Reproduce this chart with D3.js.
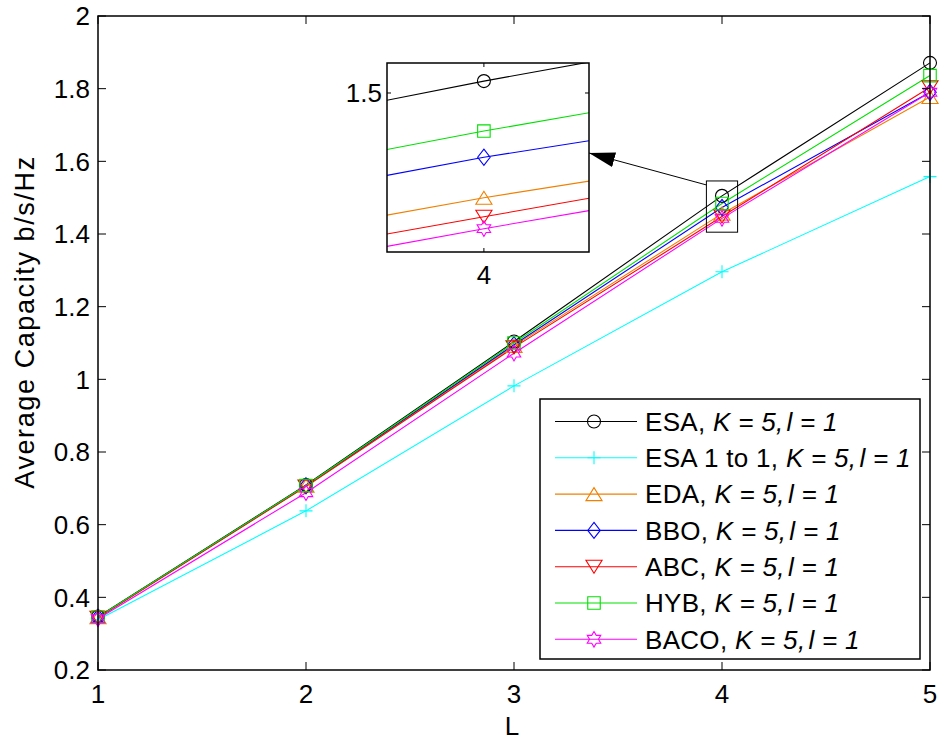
<!DOCTYPE html>
<html><head><meta charset="utf-8">
<script src="https://cdn.jsdelivr.net/npm/d3@7"></script>
<style>body{margin:0;background:#fff}svg{display:block}text{font-family:"Liberation Sans",Arial,sans-serif}</style>
</head><body><svg id="c" width="940" height="740"></svg>
<script>
const L = [1, 2, 3, 4, 5];
const esa   = [0.347, 0.709, 1.104, 1.505, 1.871];
const esa11 = [0.338, 0.638, 0.982, 1.296, 1.558];
const eda   = [0.345, 0.707, 1.092, 1.456, 1.777];
const bbo   = [0.345, 0.707, 1.095, 1.473, 1.790];
const abc   = [0.344, 0.705, 1.088, 1.448, 1.804];
const hyb   = [0.346, 0.708, 1.100, 1.484, 1.836];
const baco  = [0.341, 0.688, 1.072, 1.443, 1.790];
const names = ["ESA", "ESA 1 to 1", "EDA", "BBO", "ABC", "HYB", "BACO"];
const xTicks = [1, 2, 3, 4, 5];
const yTicks = [0.2, 0.4, 0.6, 0.8, 1, 1.2, 1.4, 1.6, 1.8, 2];
const insetXTicks = [4];
const insetYTicks = [1.5];
const zoomBoxX = [3.925, 4.075];
const zoomBoxY = [1.405, 1.546];

const colors = ["#000000", "#00ffff", "#f08000", "#0000ff", "#ff0000", "#00e000", "#ff00ff"];
const markers = ["circle", "plus", "triangle", "diamond", "triangleDown", "square", "hexagram"];
const seriesVals = [esa, esa11, eda, bbo, abc, hyb, baco];
const series = names.map((n, i) => ({name: n, color: colors[i], marker: markers[i], vals: seriesVals[i]}));

const svg = d3.select("#c");
const M = {l: 98, r: 930, t: 16, b: 670};
const x = d3.scaleLinear().domain([1, 5]).range([M.l, M.r]);
const y = d3.scaleLinear().domain([0.2, 2]).range([M.b, M.t]);

function markerPath(type, s) {
  const p = d3.path();
  if (type === "circle") { p.moveTo(s * 0.5, 0); p.arc(0, 0, s * 0.5, 0, Math.PI * 2); }
  else if (type === "square") { const h = s * 0.48; p.rect(-h, -h, 2 * h, 2 * h); }
  else if (type === "diamond") { const w = s * 0.48, h = s * 0.62; p.moveTo(0, -h); p.lineTo(w, 0); p.lineTo(0, h); p.lineTo(-w, 0); p.closePath(); }
  else if (type === "triangle") { const w = s * 0.62, h = s * 0.5; p.moveTo(0, -h); p.lineTo(w, h); p.lineTo(-w, h); p.closePath(); }
  else if (type === "triangleDown") { const w = s * 0.62, h = s * 0.5; p.moveTo(0, h); p.lineTo(w, -h); p.lineTo(-w, -h); p.closePath(); }
  else if (type === "plus") { const h = s * 0.5; p.moveTo(-h, 0); p.lineTo(h, 0); p.moveTo(0, -h); p.lineTo(0, h); }
  else if (type === "hexagram") {
    const R = s * 0.6, r = R / Math.sqrt(3);
    for (let k = 0; k < 12; k++) {
      const a = -Math.PI / 2 + k * Math.PI / 6, rr = k % 2 ? r : R;
      const px = rr * Math.cos(a), py = rr * Math.sin(a);
      if (k === 0) p.moveTo(px, py); else p.lineTo(px, py);
    }
    p.closePath();
  }
  return p.toString();
}
const MS = 13;
const FS = 26;

svg.append("defs");
const line = d3.line().x((d, i) => x(L[i])).y(d => y(d));
const g = svg.append("g");
series.forEach(s => {
  g.append("path").attr("d", line(s.vals)).attr("fill", "none").attr("stroke", s.color).attr("stroke-width", 1.1);
});
series.forEach(s => {
  g.selectAll(null).data(s.vals).enter().append("path")
    .attr("transform", (d, i) => `translate(${x(L[i])},${y(d)})`)
    .attr("d", markerPath(s.marker, MS)).attr("fill", "none").attr("stroke", s.color).attr("stroke-width", 1.1);
});

// axes box
const ax = svg.append("g");
ax.append("rect").attr("x", M.l).attr("y", M.t).attr("width", M.r - M.l).attr("height", M.b - M.t)
  .attr("fill", "none").attr("stroke", "#000").attr("stroke-width", 1.5);
const TL = 8;
yTicks.forEach(v => {
  ax.append("line").attr("x1", M.l).attr("x2", M.l + TL).attr("y1", y(v)).attr("y2", y(v)).attr("stroke", "#000");
  ax.append("line").attr("x1", M.r).attr("x2", M.r - TL).attr("y1", y(v)).attr("y2", y(v)).attr("stroke", "#000");
  ax.append("text").attr("x", M.l - 8).attr("y", y(v)).attr("dy", "0.36em").attr("text-anchor", "end")
    .attr("font-size", FS).text(+v.toFixed(1));
});
xTicks.forEach(v => {
  ax.append("line").attr("x1", x(v)).attr("x2", x(v)).attr("y1", M.b).attr("y2", M.b - TL).attr("stroke", "#000");
  ax.append("line").attr("x1", x(v)).attr("x2", x(v)).attr("y1", M.t).attr("y2", M.t + TL).attr("stroke", "#000");
  ax.append("text").attr("x", x(v)).attr("y", M.b + 33).attr("text-anchor", "middle").attr("font-size", FS).text(v);
});
ax.append("text").attr("x", (M.l + M.r) / 2 - 2).attr("y", 735).attr("text-anchor", "middle").attr("font-size", FS).text("L");
ax.append("text").attr("transform", `translate(34,322) rotate(-90)`).attr("text-anchor", "middle")
  .attr("font-size", 27).attr("letter-spacing", 1.6).text("Average Capacity b/s/Hz");

// zoom rectangle
ax.append("rect").attr("x", x(zoomBoxX[0])).attr("y", y(zoomBoxY[1]))
  .attr("width", x(zoomBoxX[1]) - x(zoomBoxX[0])).attr("height", y(zoomBoxY[0]) - y(zoomBoxY[1]))
  .attr("fill", "none").attr("stroke", "#000").attr("stroke-width", 1);

// inset
const I = {l: 387, r: 589, t: 63, b: 252};
const xi = d3.scaleLinear().domain([3.9799, 4.0218]).range([I.l, I.r]);
const yi = d3.scaleLinear().domain([1.4332, 1.5126]).range([I.b, I.t]);
svg.select("defs").append("clipPath").attr("id", "insetclip")
  .append("rect").attr("x", I.l).attr("y", I.t).attr("width", I.r - I.l).attr("height", I.b - I.t);
const gi = svg.append("g");
gi.append("rect").attr("x", I.l).attr("y", I.t).attr("width", I.r - I.l).attr("height", I.b - I.t).attr("fill", "#fff");
const linei = d3.line().x((d, i) => xi(L[i])).y(d => yi(d));
const gic = gi.append("g").attr("clip-path", "url(#insetclip)");
series.forEach(s => {
  gic.append("path").attr("d", linei(s.vals)).attr("fill", "none").attr("stroke", s.color).attr("stroke-width", 1.1);
  gic.selectAll(null).data(s.vals).enter().append("path")
    .attr("transform", (d, i) => `translate(${xi(L[i])},${yi(d)})`)
    .attr("d", markerPath(s.marker, MS)).attr("fill", "none").attr("stroke", s.color).attr("stroke-width", 1.1);
});
gi.append("rect").attr("x", I.l).attr("y", I.t).attr("width", I.r - I.l).attr("height", I.b - I.t)
  .attr("fill", "none").attr("stroke", "#000").attr("stroke-width", 1.5);
insetYTicks.forEach(v => {
  gi.append("line").attr("x1", I.l).attr("x2", I.l + 4).attr("y1", yi(v)).attr("y2", yi(v)).attr("stroke", "#000");
  gi.append("line").attr("x1", I.r).attr("x2", I.r - 4).attr("y1", yi(v)).attr("y2", yi(v)).attr("stroke", "#000");
  gi.append("text").attr("x", I.l - 5).attr("y", yi(v)).attr("dy", "0.36em").attr("text-anchor", "end").attr("font-size", FS).text(v);
});
insetXTicks.forEach(v => {
  gi.append("line").attr("x1", xi(v)).attr("x2", xi(v)).attr("y1", I.b).attr("y2", I.b - 4).attr("stroke", "#000");
  gi.append("line").attr("x1", xi(v)).attr("x2", xi(v)).attr("y1", I.t).attr("y2", I.t + 4).attr("stroke", "#000");
  gi.append("text").attr("x", xi(v)).attr("y", I.b + 32).attr("text-anchor", "middle").attr("font-size", FS).text(v);
});

// arrow
svg.select("defs").append("marker").attr("id", "ah").attr("viewBox", "0 0 10 10").attr("refX", 10).attr("refY", 5)
  .attr("markerWidth", 26).attr("markerHeight", 15).attr("markerUnits", "userSpaceOnUse").attr("orient", "auto")
  .attr("preserveAspectRatio", "none")
  .append("path").attr("d", "M0,0L10,5L0,10Z").attr("fill", "#000");
svg.append("line").attr("x1", x(zoomBoxX[0])).attr("y1", y(1.535)).attr("x2", I.r).attr("y2", 153)
  .attr("stroke", "#000").attr("stroke-width", 1).attr("marker-end", "url(#ah)");

// legend
const LG = {x: 540, y: 399, w: 380, h: 260};
const lg = svg.append("g");
lg.append("rect").attr("x", LG.x).attr("y", LG.y).attr("width", LG.w).attr("height", LG.h)
  .attr("fill", "#fff").attr("stroke", "#000").attr("stroke-width", 1.5);
series.forEach((s, i) => {
  const yy = LG.y + 22.5 + i * 36.3;
  lg.append("line").attr("x1", 555).attr("x2", 637).attr("y1", yy).attr("y2", yy).attr("stroke", s.color).attr("stroke-width", 1.1);
  lg.append("path").attr("transform", `translate(594,${yy})`).attr("d", markerPath(s.marker, MS))
    .attr("fill", "none").attr("stroke", s.color).attr("stroke-width", 1.1);
  const t = lg.append("text").attr("x", 645).attr("y", yy).attr("dy", "0.36em").attr("font-size", 26).attr("letter-spacing", 0.3);
  t.append("tspan").text(s.name + ",");
  t.append("tspan").attr("font-style", "italic").text(" K = 5,");
  t.append("tspan").attr("font-style", "italic").attr("dx", 3).text("l = 1");
});
</script></body></html>
